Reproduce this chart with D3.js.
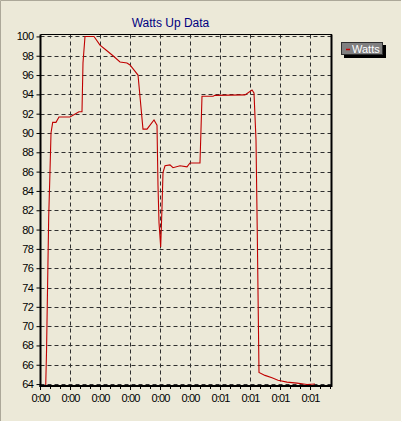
<!DOCTYPE html>
<html><head><meta charset="utf-8">
<script src="https://cdn.jsdelivr.net/npm/d3@7"></script>
<style>
html,body{margin:0;padding:0;background:#ECE9D8;}
svg{display:block;}
text{font-family:"Liberation Sans",Arial,sans-serif;}
</style></head>
<body>
<svg id="c" width="402" height="422"></svg>
<script>
// Data: elapsed seconds and watts
const seconds = [1.9, 2.17, 2.9, 3.33, 3.67, 4.23, 5.33, 6.33, 10, 13, 14, 14.33, 15, 18, 20, 22, 24.33, 26.67, 29, 30, 32.67, 34.33, 35.67, 38, 39, 39.33, 39.67, 40.23, 40.67, 41, 41.67, 43.33, 44.33, 46.67, 49, 50, 53.33, 54, 57.67, 58.33, 68.33, 70.67, 71.33, 72, 72.43, 73, 75, 77.33, 79.33, 82.33, 85.67, 89, 91.67];
const watts = [63.8, 67.3, 81.3, 86.0, 90.0, 91.1, 91.1, 91.65, 91.65, 92.2, 92.2, 97.25, 100, 100, 99.1, 98.6, 98.0, 97.35, 97.25, 97.05, 96.0, 90.4, 90.4, 91.35, 90.8, 84.6, 80.7, 78.2, 82.3, 85.9, 86.6, 86.7, 86.4, 86.6, 86.5, 86.9, 86.9, 93.8, 93.8, 93.9, 93.95, 94.45, 94.15, 89.3, 79.6, 65.2, 64.9, 64.65, 64.4, 64.2, 64.1, 63.95, 64.0];
const yTicks = [64, 66, 68, 70, 72, 74, 76, 78, 80, 82, 84, 86, 88, 90, 92, 94, 96, 98, 100];
const xTicks = [0, 10, 20, 30, 40, 50, 60, 70, 80, 90];
const title = "Watts Up Data";
const seriesName = "Watts";

const svg = d3.select("#c");
const W = 402, H = 422;
const L = 40.5, R = 331, T = 34.5, B = 386;

// frame
svg.append("rect").attr("x",0).attr("y",0).attr("width",W).attr("height",H).attr("fill","#ECE9D8");
svg.append("path").attr("d",`M0.5,${H}V0.5H${W}`).attr("fill","none").attr("stroke","#ACA899");
svg.append("path").attr("d",`M0,${H-0.5}H${W-0.5}V0`).attr("fill","none").attr("stroke","#ffffff");

const x = d3.scaleLinear().domain([0, 97]).range([L - 0.5, R]);
const y = d3.scaleLinear().domain([63.8, 100.2]).range([B, T]);

const fmt = s => Math.floor(s/3600) + ":" + String(Math.floor(s/60) % 60).padStart(2, "0");

// grid
const g = svg.append("g");
g.selectAll(".gx").data(xTicks.slice(1)).enter().append("line")
  .attr("x1", d => Math.round(x(d)) + 0.5).attr("x2", d => Math.round(x(d)) + 0.5)
  .attr("y1", T).attr("y2", B)
  .attr("stroke", "#303030").attr("stroke-dasharray", "4,3");
g.selectAll(".gy").data(yTicks).enter().append("line")
  .attr("y1", d => Math.round(y(d)) + 0.5).attr("y2", d => Math.round(y(d)) + 0.5)
  .attr("x1", L).attr("x2", R)
  .attr("stroke", "#303030").attr("stroke-dasharray", "4,3");

// clip + line
svg.append("clipPath").attr("id","pc").append("rect")
  .attr("x", L).attr("y", T).attr("width", R - L).attr("height", B - T);
const line = d3.line().x((d,i) => x(seconds[i])).y(d => y(d));
svg.append("path").datum(watts).attr("clip-path","url(#pc)")
  .attr("d", line).attr("fill","none").attr("stroke","#c00000").attr("stroke-width",1.1);

// plot border: top and right thin, left and bottom thick
svg.append("line").attr("x1",L).attr("x2",R+1).attr("y1",T).attr("y2",T).attr("stroke","#000");
svg.append("line").attr("x1",R+0.5).attr("x2",R+0.5).attr("y1",T).attr("y2",B+1).attr("stroke","#000").attr("stroke-width",2);

// x axis
const xAxis = d3.axisBottom(x).tickValues(xTicks).tickFormat(fmt).tickSize(4).tickPadding(4);
const gx = svg.append("g").attr("transform",`translate(0,${B})`).call(xAxis);
gx.select(".domain").remove();
gx.selectAll("line").attr("stroke","#000");
gx.selectAll("text").attr("font-size","11px").attr("letter-spacing","-0.8px").attr("fill","#000")
  .attr("font-family","'Liberation Sans',Arial,sans-serif");
// minor x ticks
const minors = [];
xTicks.forEach(t => { [10/3, 20/3].forEach(o => { if (t + o < 97) minors.push(t + o); }); });
svg.append("g").selectAll("line").data(minors).enter().append("line")
  .attr("x1", d => Math.round(x(d)) + 0.5).attr("x2", d => Math.round(x(d)) + 0.5)
  .attr("y1", B).attr("y2", B + 3).attr("stroke","#000");

// y axis
const yAxis = d3.axisLeft(y).tickValues(yTicks).tickFormat(d3.format("d")).tickSize(4).tickPadding(3);
const gy = svg.append("g").attr("transform",`translate(${L},0)`).call(yAxis);
gy.select(".domain").remove();
gy.selectAll("line").attr("stroke","#000");
gy.selectAll("text").attr("font-size","11px").attr("letter-spacing","-0.5px").attr("fill","#000")
  .attr("font-family","'Liberation Sans',Arial,sans-serif");

// thick axis lines
svg.append("line").attr("x1",L).attr("x2",L).attr("y1",T).attr("y2",B+1).attr("stroke","#000").attr("stroke-width",2);
svg.append("line").attr("x1",L-1).attr("x2",R+1).attr("y1",B).attr("y2",B).attr("stroke","#000").attr("stroke-width",2);

// title
svg.append("text").attr("x",170.5).attr("y",27).attr("text-anchor","middle")
  .attr("font-size","12px").attr("fill","#000080").text(title);

// legend
const lg = svg.append("g");
lg.append("rect").attr("x",344).attr("y",45).attr("width",42).attr("height",13).attr("fill","#000");
lg.append("rect").attr("x",341.5).attr("y",42.5).attr("width",41).attr("height",12).attr("fill","#808080").attr("stroke","#303030");
lg.append("line").attr("x1",346).attr("x2",350).attr("y1",49.5).attr("y2",49.5).attr("stroke","#c00000").attr("stroke-width",1.5);
lg.append("text").attr("x",352).attr("y",53).attr("font-size","11px").attr("fill","#ffffff").text(seriesName);
</script>
</body></html>
